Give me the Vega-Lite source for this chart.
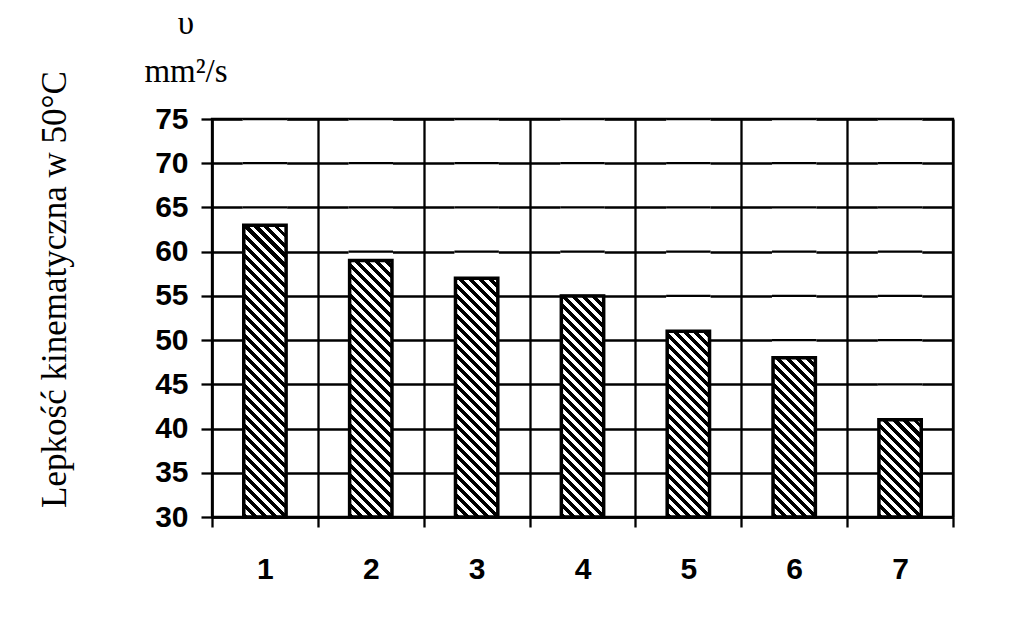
{
  "$schema": "https://vega.github.io/schema/vega-lite/v6.json",
  "autosize": "none",
  "width": 741,
  "height": 398,
  "padding": {"left": 212, "top": 119, "right": 71, "bottom": 100},
  "background": "#ffffff",
  "title": {
    "text": ["υ", "mm²/s"],
    "font": "Liberation Serif",
    "fontSize": 33,
    "fontWeight": "normal",
    "color": "#000",
    "anchor": "start",
    "frame": "group",
    "align": "center",
    "dx": -26,
    "dy": 83,
    "offset": 39,
    "baseline": "alphabetic",
    "lineHeight": 48
  },
  "config": {
    "view": {"stroke": "#000", "strokeWidth": 2.3},
    "axis": {
      "domainColor": "#000",
      "domainWidth": 2.3,
      "tickColor": "#000",
      "tickWidth": 2.3,
      "gridColor": "#000",
      "gridWidth": 2.3,
      "gridOpacity": 1,
      "labelColor": "#000",
      "labelFont": "Liberation Sans",
      "labelFontWeight": "bold",
      "labelFontSize": 30
    }
  },
  "data": {
    "values": [
      {"n": "1", "v": 63},
      {"n": "2", "v": 59},
      {"n": "3", "v": 57},
      {"n": "4", "v": 55},
      {"n": "5", "v": 51},
      {"n": "6", "v": 48},
      {"n": "7", "v": 41}
    ]
  },
  "encoding": {
    "x": {
      "field": "n",
      "type": "nominal",
      "scale": {"padding": 0},
      "axis": {
        "title": null,
        "labelAngle": 0,
        "tickBand": "extent",
        "grid": true,
        "tickSize": 10,
        "labelPadding": 27
      }
    },
    "y": {
      "field": "v",
      "type": "quantitative",
      "scale": {"domain": [30, 75], "nice": false, "zero": false},
      "axis": {
        "title": "Lepkość kinematyczna w 50°C",
        "titleFont": "Liberation Serif",
        "titleFontSize": 35,
        "titleFontWeight": "normal",
        "titleColor": "#000",
        "titleAngle": 270,
        "titleX": -147,
        "titleY": 170,
        "titleAlign": "center",
        "titleBaseline": "alphabetic",
        "values": [30, 35, 40, 45, 50, 55, 60, 65, 70, 75],
        "tickSize": 11,
        "labelPadding": 13
      }
    }
  },
  "layer": [
    {
      "mark": {
        "type": "bar",
        "width": {"band": 0.4},
        "fill": {
          "gradient": "linear",
          "x1": 0, "y1": 1, "x2": 0.11639, "y2": -0.09401,
          "stops": [
            {"offset":0,"color":"#000"},{"offset":0.0114,"color":"#000"},{"offset":0.0114,"color":"#fff"},{"offset":0.0227,"color":"#fff"},
            {"offset":0.0227,"color":"#000"},{"offset":0.0341,"color":"#000"},{"offset":0.0341,"color":"#fff"},{"offset":0.0455,"color":"#fff"},
            {"offset":0.0455,"color":"#000"},{"offset":0.0568,"color":"#000"},{"offset":0.0568,"color":"#fff"},{"offset":0.0682,"color":"#fff"},
            {"offset":0.0682,"color":"#000"},{"offset":0.0795,"color":"#000"},{"offset":0.0795,"color":"#fff"},{"offset":0.0909,"color":"#fff"},
            {"offset":0.0909,"color":"#000"},{"offset":0.1023,"color":"#000"},{"offset":0.1023,"color":"#fff"},{"offset":0.1136,"color":"#fff"},
            {"offset":0.1136,"color":"#000"},{"offset":0.1250,"color":"#000"},{"offset":0.1250,"color":"#fff"},{"offset":0.1364,"color":"#fff"},
            {"offset":0.1364,"color":"#000"},{"offset":0.1477,"color":"#000"},{"offset":0.1477,"color":"#fff"},{"offset":0.1591,"color":"#fff"},
            {"offset":0.1591,"color":"#000"},{"offset":0.1705,"color":"#000"},{"offset":0.1705,"color":"#fff"},{"offset":0.1818,"color":"#fff"},
            {"offset":0.1818,"color":"#000"},{"offset":0.1932,"color":"#000"},{"offset":0.1932,"color":"#fff"},{"offset":0.2045,"color":"#fff"},
            {"offset":0.2045,"color":"#000"},{"offset":0.2159,"color":"#000"},{"offset":0.2159,"color":"#fff"},{"offset":0.2273,"color":"#fff"},
            {"offset":0.2273,"color":"#000"},{"offset":0.2386,"color":"#000"},{"offset":0.2386,"color":"#fff"},{"offset":0.2500,"color":"#fff"},
            {"offset":0.2500,"color":"#000"},{"offset":0.2614,"color":"#000"},{"offset":0.2614,"color":"#fff"},{"offset":0.2727,"color":"#fff"},
            {"offset":0.2727,"color":"#000"},{"offset":0.2841,"color":"#000"},{"offset":0.2841,"color":"#fff"},{"offset":0.2955,"color":"#fff"},
            {"offset":0.2955,"color":"#000"},{"offset":0.3068,"color":"#000"},{"offset":0.3068,"color":"#fff"},{"offset":0.3182,"color":"#fff"},
            {"offset":0.3182,"color":"#000"},{"offset":0.3295,"color":"#000"},{"offset":0.3295,"color":"#fff"},{"offset":0.3409,"color":"#fff"},
            {"offset":0.3409,"color":"#000"},{"offset":0.3523,"color":"#000"},{"offset":0.3523,"color":"#fff"},{"offset":0.3636,"color":"#fff"},
            {"offset":0.3636,"color":"#000"},{"offset":0.3750,"color":"#000"},{"offset":0.3750,"color":"#fff"},{"offset":0.3864,"color":"#fff"},
            {"offset":0.3864,"color":"#000"},{"offset":0.3977,"color":"#000"},{"offset":0.3977,"color":"#fff"},{"offset":0.4091,"color":"#fff"},
            {"offset":0.4091,"color":"#000"},{"offset":0.4205,"color":"#000"},{"offset":0.4205,"color":"#fff"},{"offset":0.4318,"color":"#fff"},
            {"offset":0.4318,"color":"#000"},{"offset":0.4432,"color":"#000"},{"offset":0.4432,"color":"#fff"},{"offset":0.4545,"color":"#fff"},
            {"offset":0.4545,"color":"#000"},{"offset":0.4659,"color":"#000"},{"offset":0.4659,"color":"#fff"},{"offset":0.4773,"color":"#fff"},
            {"offset":0.4773,"color":"#000"},{"offset":0.4886,"color":"#000"},{"offset":0.4886,"color":"#fff"},{"offset":0.5000,"color":"#fff"},
            {"offset":0.5000,"color":"#000"},{"offset":0.5114,"color":"#000"},{"offset":0.5114,"color":"#fff"},{"offset":0.5227,"color":"#fff"},
            {"offset":0.5227,"color":"#000"},{"offset":0.5341,"color":"#000"},{"offset":0.5341,"color":"#fff"},{"offset":0.5455,"color":"#fff"},
            {"offset":0.5455,"color":"#000"},{"offset":0.5568,"color":"#000"},{"offset":0.5568,"color":"#fff"},{"offset":0.5682,"color":"#fff"},
            {"offset":0.5682,"color":"#000"},{"offset":0.5795,"color":"#000"},{"offset":0.5795,"color":"#fff"},{"offset":0.5909,"color":"#fff"},
            {"offset":0.5909,"color":"#000"},{"offset":0.6023,"color":"#000"},{"offset":0.6023,"color":"#fff"},{"offset":0.6136,"color":"#fff"},
            {"offset":0.6136,"color":"#000"},{"offset":0.6250,"color":"#000"},{"offset":0.6250,"color":"#fff"},{"offset":0.6364,"color":"#fff"},
            {"offset":0.6364,"color":"#000"},{"offset":0.6477,"color":"#000"},{"offset":0.6477,"color":"#fff"},{"offset":0.6591,"color":"#fff"},
            {"offset":0.6591,"color":"#000"},{"offset":0.6705,"color":"#000"},{"offset":0.6705,"color":"#fff"},{"offset":0.6818,"color":"#fff"},
            {"offset":0.6818,"color":"#000"},{"offset":0.6932,"color":"#000"},{"offset":0.6932,"color":"#fff"},{"offset":0.7045,"color":"#fff"},
            {"offset":0.7045,"color":"#000"},{"offset":0.7159,"color":"#000"},{"offset":0.7159,"color":"#fff"},{"offset":0.7273,"color":"#fff"},
            {"offset":0.7273,"color":"#000"},{"offset":0.7386,"color":"#000"},{"offset":0.7386,"color":"#fff"},{"offset":0.7500,"color":"#fff"},
            {"offset":0.7500,"color":"#000"},{"offset":0.7614,"color":"#000"},{"offset":0.7614,"color":"#fff"},{"offset":0.7727,"color":"#fff"},
            {"offset":0.7727,"color":"#000"},{"offset":0.7841,"color":"#000"},{"offset":0.7841,"color":"#fff"},{"offset":0.7955,"color":"#fff"},
            {"offset":0.7955,"color":"#000"},{"offset":0.8068,"color":"#000"},{"offset":0.8068,"color":"#fff"},{"offset":0.8182,"color":"#fff"},
            {"offset":0.8182,"color":"#000"},{"offset":0.8295,"color":"#000"},{"offset":0.8295,"color":"#fff"},{"offset":0.8409,"color":"#fff"},
            {"offset":0.8409,"color":"#000"},{"offset":0.8523,"color":"#000"},{"offset":0.8523,"color":"#fff"},{"offset":0.8636,"color":"#fff"},
            {"offset":0.8636,"color":"#000"},{"offset":0.8750,"color":"#000"},{"offset":0.8750,"color":"#fff"},{"offset":0.8864,"color":"#fff"},
            {"offset":0.8864,"color":"#000"},{"offset":0.8977,"color":"#000"},{"offset":0.8977,"color":"#fff"},{"offset":0.9091,"color":"#fff"},
            {"offset":0.9091,"color":"#000"},{"offset":0.9205,"color":"#000"},{"offset":0.9205,"color":"#fff"},{"offset":0.9318,"color":"#fff"},
            {"offset":0.9318,"color":"#000"},{"offset":0.9432,"color":"#000"},{"offset":0.9432,"color":"#fff"},{"offset":0.9545,"color":"#fff"},
            {"offset":0.9545,"color":"#000"},{"offset":0.9659,"color":"#000"},{"offset":0.9659,"color":"#fff"},{"offset":0.9773,"color":"#fff"},
            {"offset":0.9773,"color":"#000"},{"offset":0.9886,"color":"#000"},{"offset":0.9886,"color":"#fff"},{"offset":1,"color":"#fff"}
          ]
        }
      },
      "encoding": {
        "y": {"datum": 75, "type": "quantitative"},
        "y2": {"datum": 30}
      }
    },
    {
      "mark": {"type": "bar", "width": {"band": 0.42}, "fill": "#ffffff"},
      "encoding": {
        "y2": {"datum": 75}
      }
    },
    {
      "mark": {
        "type": "rule",
        "stroke": "#000",
        "strokeWidth": 44.46,
        "strokeDash": [2.3, 41.9222],
        "strokeDashOffset": 1.15,
        "strokeCap": "butt"
      },
      "encoding": {
        "y": {"datum": 75, "type": "quantitative"},
        "y2": {"field": "v"}
      }
    },
    {
      "mark": {
        "type": "bar",
        "width": {"band": 0.4},
        "fillOpacity": 0,
        "stroke": "#000",
        "strokeWidth": 3.5
      },
      "encoding": {
        "y2": {"datum": 30}
      }
    }
  ]
}
